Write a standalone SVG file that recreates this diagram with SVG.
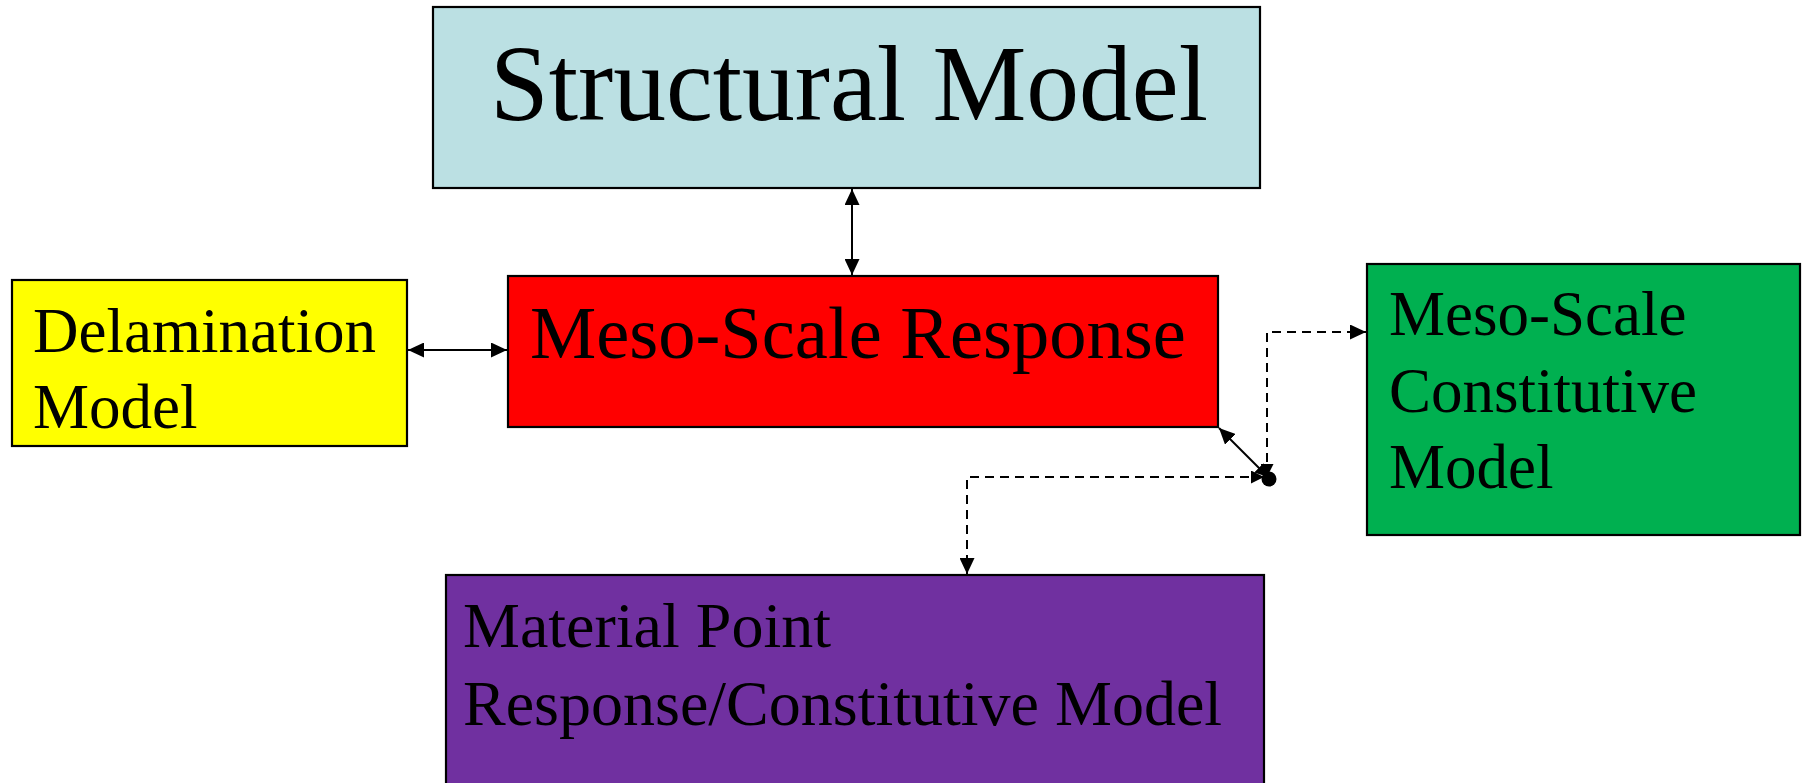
<svg xmlns="http://www.w3.org/2000/svg" width="1803" height="783" viewBox="0 0 1803 783">
<style>
.box{stroke:#000;stroke-width:2.2}
.t{font-family:"Liberation Serif","Times New Roman",serif;fill:#000}
.solid{stroke:#000;stroke-width:2;fill:none}
.dash{stroke:#000;stroke-width:2;fill:none;stroke-dasharray:9 6}
</style>
<defs>
<marker id="ah" markerUnits="userSpaceOnUse" markerWidth="16" markerHeight="15" refX="16" refY="7.5" orient="auto-start-reverse" viewBox="0 0 16 15">
<path d="M0,0 L16,7.5 L0,15 z" fill="#000"/>
</marker>
<marker id="ahs" markerUnits="userSpaceOnUse" markerWidth="13" markerHeight="13" refX="13" refY="6.5" orient="auto-start-reverse" viewBox="0 0 13 13">
<path d="M0,0 L13,6.5 L0,13 z" fill="#000"/>
</marker>
</defs>
<rect width="1803" height="783" fill="#fff"/>
<g id="structural-model">
<rect class="box" x="433" y="7" width="827" height="181" fill="#BBE0E3"/>
<text class="t" x="490" y="120" font-size="108" textLength="718" lengthAdjust="spacingAndGlyphs">Structural Model</text>
</g>
<g id="delamination-model">
<rect class="box" x="12" y="280" width="395" height="166" fill="#FFFF00"/>
<text class="t" x="33" y="352" font-size="63">Delamination</text>
<text class="t" x="33" y="428" font-size="63">Model</text>
</g>
<g id="meso-scale-response">
<rect class="box" x="508" y="276" width="710" height="151" fill="#FF0000"/>
<text class="t" x="530" y="358" font-size="74.5">Meso-Scale Response</text>
</g>
<g id="meso-scale-constitutive-model">
<rect class="box" x="1367" y="264" width="433" height="271" fill="#00B050"/>
<text class="t" x="1389" y="335" font-size="63">Meso-Scale</text>
<text class="t" x="1389" y="412" font-size="63">Constitutive</text>
<text class="t" x="1389" y="488" font-size="63">Model</text>
</g>
<g id="material-point-model">
<rect class="box" x="446" y="575" width="818" height="220" fill="#7030A0"/>
<text class="t" x="463" y="647" font-size="64">Material Point</text>
<text class="t" x="463" y="725" font-size="64">Response/Constitutive Model</text>
</g>
<g id="connectors">
<line class="solid" x1="852" y1="189" x2="852" y2="275" marker-start="url(#ah)" marker-end="url(#ah)"/>
<line class="solid" x1="408" y1="350" x2="507" y2="350" marker-start="url(#ah)" marker-end="url(#ah)"/>
<line class="solid" x1="1219" y1="428" x2="1268" y2="477" marker-start="url(#ah)" marker-end="url(#ahs)"/>
<polyline class="dash" points="1267,477 1267,332 1366,332" marker-start="url(#ahs)" marker-end="url(#ah)"/>
<polyline class="dash" points="1264,477 967,477 967,574" marker-start="url(#ahs)" marker-end="url(#ah)"/>
<circle cx="1269" cy="479" r="7.5" fill="#000"/>
</g>
</svg>
